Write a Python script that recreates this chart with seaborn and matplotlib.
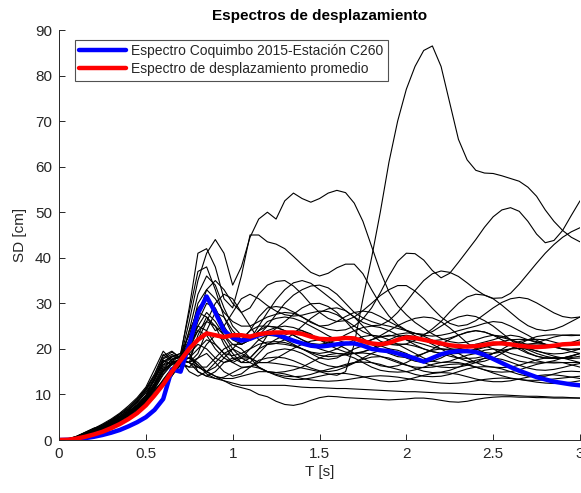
import numpy as np
import pandas as pd
import matplotlib
matplotlib.use("Agg")
import matplotlib.pyplot as plt
import seaborn as sns

# Period grid [s], 0.05 s step from 0 to 3 s
periods = [round(0.05 * i, 2) for i in range(61)]

# Displacement spectra of the record set [cm], one value per period
rec01 = [0, 0.1, 0.5, 1.3, 2.0, 2.9, 3.9, 5.0, 6.2, 7.8, 9.8, 12.5, 16.5, 17.2, 17.5,
         19, 21, 20, 18, 17, 17.5, 18.5, 18, 17, 17,
         16.8, 16.5, 16.2, 15.8, 15.4, 15.0, 14.5, 14.2, 15.0, 21, 31, 40, 50, 61, 70, 77,
         82, 85.5, 86.5, 82, 74, 66, 61.5, 59.2, 58.6, 58.5, 58, 57.4, 56.8, 55.5, 53.5,
         50.5, 48, 46, 44.5, 43.5]
rec02 = [0, 0.1, 0.3, 0.9, 1.5, 2.2, 3.0, 4.0, 5.0, 6.7, 8.3, 10.5, 13.3, 15.8, 18.0,
         26, 35, 41, 44, 41, 34, 38, 44.5, 48.5, 50,
         48.5, 52.5, 54.2, 53, 52.2, 53, 54.2, 54.8, 54.3, 52, 48, 42.5, 37, 32.5, 29.5,
         27.5, 25.8, 24.5, 23.3, 22.3, 21.6, 21.3, 21.5, 22, 22.6, 23, 22.8, 22.1, 21.1,
         20.2, 19.5, 19.1, 18.9, 19, 19.4, 20]
rec03 = [0, 0.2, 0.7, 1.6, 2.5, 3.5, 4.6, 5.9, 7.5, 9.3, 11.6, 15.5, 19.5, 17.5, 18.5,
         29, 41, 42, 38, 31, 29, 36, 45, 45, 43.5,
         43, 42, 40.3, 38.5, 36.8, 36, 36.6, 37.8, 38.6, 38.6, 36.5, 33, 29.8, 27.2, 25.3,
         24.1, 23.4, 23.2, 23.8, 25, 26.2, 27, 27.4, 27.1, 26.2, 25, 23.5, 22, 20.4, 19.2,
         18.4, 18, 17.9, 18, 18.4, 19]
rec04 = [0, 0.1, 0.4, 1.0, 1.7, 2.4, 3.2, 4.5, 5.4, 7.2, 8.8, 11.0, 13.0, 15.0, 17.0,
         22, 30, 33, 31, 28, 26, 25, 25, 26, 27,
         27.6, 28, 27.8, 27, 26, 25, 24.3, 24, 24.2, 25, 26.6, 29, 32.3, 36, 39.2, 41,
         40.9, 39.5, 37.2, 35.6, 36.6, 39, 41.5, 44, 46.7, 49, 50.5, 51, 50.2, 48, 45.2,
         43.3, 43.8, 46, 49.3, 52.5]
rec05 = [0, 0.1, 0.6, 1.3, 2.1, 2.7, 3.7, 4.5, 6.0, 7.5, 9.6, 13.3, 17.0, 18.3, 19.0,
         28, 37, 38, 33, 27, 23, 21, 22, 25, 28,
         30.8, 33, 34.5, 35, 34.4, 33, 31.5, 30, 28.4, 27, 25.8, 25.1, 25.2, 26.2, 28,
         30.3, 32.8, 35, 36.5, 37.1, 36.8, 35.9, 34.5, 33, 31.8, 31.1, 31.2, 32.2, 34.2,
         36.5, 38.8, 41, 42.9, 44.5, 45.7, 46.6]
rec06 = [0, 0.1, 0.3, 0.7, 1.3, 1.9, 2.6, 3.6, 4.6, 6.0, 7.5, 9.5, 12.0, 14.2, 16.5,
         20, 27, 33, 35, 33, 30, 28, 29, 32, 34,
         34.8, 35, 33.8, 32, 29.8, 28, 26.7, 26, 26.2, 27, 28.4, 30, 31.7, 33, 33.9, 33.9,
         32.7, 31, 28.9, 27, 25.6, 25, 25.3, 26.2, 27.6, 29, 30.2, 31, 31.3, 31, 30.1, 29,
         27.9, 27.1, 26.8, 27]
rec07 = [0, 0.2, 0.8, 1.7, 2.6, 3.1, 4.2, 5.6, 6.8, 8.6, 11.0, 14.2, 18.5, 19.5, 18.0,
         18, 22, 26, 30, 32, 31, 28, 25, 22, 21,
         21.2, 22, 23.3, 25, 26.7, 28, 28.8, 29, 28.4, 27, 25, 23, 21.7, 21, 20.8, 21.1,
         21.9, 23, 24.4, 26, 28.1, 30, 31.4, 32, 31.8, 31, 29.6, 28, 26.4, 25.1, 24.3, 24,
         24.3, 25, 26, 27]
rec08 = [0, 0.1, 0.4, 1.1, 1.9, 2.6, 3.5, 4.1, 5.8, 6.8, 8.8, 11.8, 15.0, 17.0, 17.5,
         17, 19, 24, 28, 27, 24, 22, 22, 24, 26,
         26.7, 27, 26.7, 26, 25, 24, 22.9, 22, 21.3, 21, 21.3, 22, 22.9, 24, 25.1, 26,
         26.7, 27, 26.8, 26, 24.6, 23, 21.3, 20, 19.2, 19, 19.3, 20, 21, 22, 22.7, 23,
         23.1, 23, 22.9, 23]
rec09 = [0, 0.1, 0.5, 1.2, 1.9, 2.8, 3.6, 4.9, 6.3, 7.6, 9.5, 12.2, 15.8, 16.5, 18.0,
         20, 25, 28, 26, 23, 20, 18, 18, 20, 23,
         24.5, 26, 27.6, 29, 29.9, 30, 29.3, 28, 26.1, 24, 22.3, 21, 19.9, 19, 18.3, 18.1,
         18.4, 19, 19.9, 21, 22.1, 23, 23.7, 24, 23.7, 23, 22, 21, 19.9, 19, 18.4, 18,
         17.9, 18, 18.4, 19]
rec10 = [0, 0.1, 0.3, 0.8, 1.4, 2.1, 2.9, 3.8, 4.8, 6.3, 8.0, 10.0, 12.8, 15.2, 17.0,
         16, 18, 21, 23, 22, 19, 17, 17, 19, 21,
         22.1, 23, 23.8, 24, 23.3, 22, 20.9, 20, 19.3, 19, 19.3, 20, 21, 22, 22.8, 23,
         22.7, 22, 21, 20, 18.9, 18, 17.3, 17, 17.3, 18, 19, 20, 20.7, 21, 21.1, 21,
         20.6, 20, 19.4, 19]
rec11 = [0, 0.2, 0.6, 1.5, 2.3, 3.2, 4.3, 5.6, 7.0, 8.9, 11.2, 14.0, 17.5, 16.5, 17.5,
         15, 14, 15, 17, 19, 20, 19, 18, 17, 17,
         17.9, 19, 20.1, 21, 21.7, 22, 21.7, 21, 20.1, 19, 17.9, 17, 16.3, 16, 16.3, 17,
         18, 19, 19.7, 20, 19.7, 19, 18, 17, 16.3, 16, 15.9, 16, 16.4, 17, 17.6, 18,
         18.1, 18, 17.5, 17]
rec12 = [0, 0.1, 0.4, 0.9, 1.5, 2.2, 3.0, 4.0, 5.1, 6.5, 8.3, 10.3, 12.2, 14.0, 17.5,
         17, 16, 16, 18, 20, 21, 20, 18, 16, 15,
         14.8, 15, 15.4, 16, 17, 18, 18.7, 19, 18.7, 18, 17, 16, 15.3, 15, 14.9, 15,
         15.4, 16, 16.6, 17, 17.1, 17, 16.6, 16, 15.4, 15, 14.9, 15, 15.4, 16, 16.6, 17,
         17.1, 17, 16.5, 16]
rec13 = [0, 0.1, 0.6, 1.2, 2.0, 2.6, 3.4, 4.4, 5.7, 7.3, 9.2, 12.4, 16.0, 17.6, 18.5,
         19, 15, 14, 15, 17, 18, 18, 17, 16, 15,
         14.4, 14, 13.9, 14, 14.4, 15, 15.5, 16, 16.6, 17, 17.1, 17, 16.6, 16, 15.5, 15,
         14.4, 14, 13.9, 14, 14.4, 15, 15.6, 16, 16.1, 16, 15.6, 15, 14.4, 14, 13.9, 14,
         14.5, 15, 15.1, 15]
rec14 = [0, 0.1, 0.3, 0.8, 1.3, 2.0, 2.7, 3.5, 4.7, 5.9, 7.6, 9.6, 12.3, 14.3, 16.5,
         16, 16, 15, 14, 13, 12, 11.5, 11, 10, 9.5,
         8.5, 7.8, 7.6, 8.0, 8.7, 9.3, 9.6, 9.5, 9.3, 9.2, 9.1, 9, 8.9, 8.8, 8.9, 9,
         9.2, 9.2, 9.0, 8.7, 8.4, 8.3, 8.5, 8.9, 9.2, 9.4, 9.5, 9.5, 9.4, 9.4, 9.3, 9.3,
         9.2, 9.2, 9.2, 9.2]
rec15 = [0, 0.2, 0.7, 1.6, 2.4, 3.0, 3.9, 5.2, 6.5, 8.2, 10.4, 13.0, 17.2, 18.5, 17.5,
         17, 15, 14, 13.5, 13, 12.5, 12, 12, 12, 12,
         12, 12, 11.8, 11.6, 11.5, 11.5, 11.4, 11.3, 11.3, 11.2, 11.1, 11, 10.9, 10.8,
         10.7, 10.6, 10.6, 10.5, 10.4, 10.3, 10.3, 10.2, 10.1, 10, 10, 9.9, 9.9, 9.8,
         9.7, 9.6, 9.6, 9.5, 9.4, 9.4, 9.3, 9.2]
rec16 = [0, 0.1, 0.4, 1.0, 1.8, 2.5, 3.3, 4.2, 5.4, 6.9, 8.5, 11.2, 14.3, 16.6, 17.5,
         18, 17, 15, 14, 13.5, 13.5, 14, 14.5, 15, 15,
         14.8, 14.5, 14, 13.5, 13.2, 13, 12.9, 13, 13.2, 13.5, 13.8, 14, 14.1, 14, 13.8,
         13.5, 13.2, 13, 12.7, 12.5, 12.4, 12.5, 12.7, 13, 13.3, 13.5, 13.6, 13.5, 13.3,
         13, 12.7, 12.5, 12.4, 12.5, 12.7, 13]
rec17 = [0, 0.1, 0.5, 1.2, 1.8, 2.7, 3.5, 4.7, 6.0, 7.4, 9.2, 11.5, 15.2, 17.0, 17.5,
         18, 20, 22, 21, 19, 17, 16, 16, 17, 19,
         19.7, 20, 19.7, 19, 18, 17, 16.3, 16, 16.3, 17, 18, 19, 19.7, 20, 19.7, 19,
         18, 17, 16.3, 16, 15.9, 16, 16.4, 17, 18, 19, 19.7, 20, 20.1, 20, 19.6, 19,
         18.4, 18, 17.9, 18]
rec18 = [0, 0.1, 0.3, 0.9, 1.5, 2.1, 3.1, 3.9, 5.0, 6.4, 8.1, 10.3, 13.0, 15.5, 18.0,
         17, 23, 27, 25, 21, 18, 17, 18, 20, 21,
         21.2, 21, 20.6, 20, 19, 18, 17.7, 18, 19, 20, 20.7, 21, 20.7, 20, 19, 18,
         17.3, 17, 17.3, 18, 19, 20, 20.7, 21, 20.7, 20, 19, 18, 17.3, 17, 16.9, 17,
         17.4, 18, 18.5, 19]
rec19 = [0, 0.2, 0.6, 1.5, 2.4, 3.3, 4.4, 5.7, 7.2, 9.0, 11.3, 14.5, 18.8, 17.2, 18.5,
         21, 24, 23, 20, 18, 17, 18, 20, 22, 23,
         22.8, 22, 21, 20, 19.3, 19, 19.3, 20, 21, 22, 22.7, 23, 22.7, 22, 21, 20,
         19, 18, 17.3, 17, 17.3, 18, 18.6, 19, 19.7, 20, 19.7, 19, 18.5, 18, 17.4, 17,
         16.9, 17, 17, 17]
rec20 = [0, 0.1, 0.4, 1.0, 1.6, 2.3, 3.1, 4.3, 5.3, 7.0, 8.6, 10.8, 12.6, 14.6, 17.0,
         24, 32, 36, 34, 29, 25, 23, 22, 23, 25,
         27.6, 30, 31.8, 33, 33.8, 34, 33.4, 32, 30, 28, 26.8, 26, 25.4, 25, 24.5, 24,
         23.4, 23, 22.8, 23, 23.4, 24, 24.5, 25, 25.6, 26, 25.8, 25, 24, 23, 21.9, 21,
         20.4, 20, 19.9, 20]
rec21 = [0, 0.1, 0.6, 1.4, 2.1, 2.8, 3.8, 4.6, 6.1, 7.7, 9.8, 13.6, 16.5, 18.2, 19.0,
         23, 29, 31, 28, 24, 22, 22, 24, 27, 29,
         29.3, 29, 28.1, 27, 25.8, 25, 25.2, 26, 27.1, 28, 28.3, 28, 27.1, 26, 25, 24,
         22.9, 22, 21.8, 22, 22.4, 23, 23.6, 24, 23.7, 23, 22.5, 22, 21.4, 21, 21.3, 22,
         22.6, 23, 23.1, 23]
rec22 = [0, 0.1, 0.3, 0.7, 1.2, 1.8, 2.6, 3.5, 4.5, 5.9, 7.4, 9.4, 11.9, 14.1, 16.5,
         20, 24, 26, 25, 23, 21, 21, 22, 23, 24,
         24.7, 25, 24.7, 24, 23, 22, 21.3, 21, 20.9, 21, 21.4, 22, 22.6, 23, 22.7, 22,
         21.5, 21, 20.4, 20, 19.9, 20, 20.4, 21, 21.5, 22, 22.6, 23, 22.7, 22, 21.4, 21,
         20.9, 21, 21.4, 22]
rec23 = [0, 0.2, 0.8, 1.6, 2.5, 3.2, 4.1, 5.3, 6.6, 8.3, 10.8, 13.6, 18.0, 19.3, 18.0,
         19, 16, 15, 16, 18, 20, 22, 24, 25, 25,
         24.7, 24, 23, 22, 20.9, 20, 19.4, 19, 18.9, 19, 19.4, 20, 20.6, 21, 21.1, 21,
         20.6, 20, 19.4, 19, 18.9, 19, 19.4, 20, 20.6, 21, 21.6, 22, 22.1, 22, 21.6, 21,
         20.4, 20, 19.9, 20]
rec24 = [0, 0.1, 0.4, 1.1, 1.9, 2.7, 3.6, 4.3, 6.0, 7.0, 9.0, 12.0, 15.2, 17.1, 17.5,
         20, 26, 30, 29, 25, 22, 21, 22, 24, 25,
         24.8, 24, 23, 22, 21.2, 21, 21.3, 22, 23.1, 24, 24.7, 25, 24.7, 24, 23.1, 22,
         20.9, 20, 19.4, 19, 18.4, 18, 17.9, 18, 18.4, 19, 19.9, 21, 21.6, 22, 22.1, 22,
         21.5, 21, 20.9, 21]
rec25 = [0, 0.1, 0.4, 1.0, 1.7, 2.5, 3.4, 4.4, 5.6, 7.1, 8.9, 11.3, 14.6, 16.8, 17.6,
         17, 18, 19, 17, 15, 14, 14.5, 16, 17.5, 18,
         18.2, 18, 17.4, 16.6, 15.8, 15.2, 15, 15.3, 16, 16.9, 17.7, 18.2, 18.3, 18, 17.3,
         16.5, 15.7, 15.1, 14.8, 14.9, 15.3, 16, 16.8, 17.5, 17.9, 18, 17.7, 17.1, 16.4,
         15.8, 15.4, 15.3, 15.5, 15.9, 16.4, 16.8]
rec26 = [0, 0.1, 0.5, 1.2, 2.0, 2.8, 3.7, 4.9, 6.1, 7.7, 9.6, 12.0, 15.4, 17.8, 18.5,
         22, 25, 24, 21, 19, 18.5, 19, 20, 21, 21.5,
         21.6, 21.4, 20.8, 20, 19.2, 18.6, 18.3, 18.4, 18.7, 19, 19.1, 18.9, 18.4, 17.7,
         17, 16.4, 16, 15.9, 16, 16.3, 16.6, 16.7, 16.5, 16, 15.4, 14.7, 14.1, 13.6,
         13.3, 13.1, 13.1, 13.2, 13.4, 13.6, 13.8, 14]
rec27 = [0, 0.2, 0.6, 1.4, 2.2, 3.0, 4.0, 5.2, 6.6, 8.3, 10.4, 13.2, 17.8, 18.8, 17.8,
         24, 28, 27, 24, 25, 28, 31, 32, 31, 29.5,
         28.3, 27.5, 27.2, 27.4, 27.9, 28.3, 28.2, 27.5, 26.3, 25, 23.8, 23, 22.7, 22.8,
         23.2, 23.5, 23.4, 22.8, 21.9, 20.9, 20.1, 19.6, 19.5, 19.8, 20.3, 20.8, 21.1,
         21, 20.5, 19.8, 19, 18.4, 18, 17.9, 18.1, 18.4]
rec28 = [0, 0.1, 0.3, 0.8, 1.4, 2.0, 2.8, 3.7, 4.8, 6.2, 7.8, 10.0, 12.6, 15.0, 17.2,
         18, 16.5, 14.5, 13.5, 13.8, 14.8, 15.8, 16.2, 15.8, 15,
         14.2, 13.6, 13.3, 13.3, 13.6, 14, 14.4, 14.6, 14.6, 14.3, 13.9, 13.4, 13, 12.8,
         12.9, 13.2, 13.7, 14.2, 14.6, 14.8, 14.7, 14.4, 13.9, 13.4, 13, 12.8, 12.8, 13,
         13.4, 13.8, 14.1, 14.3, 14.3, 14.1, 13.8, 13.5]

records = [rec01, rec02, rec03, rec04, rec05, rec06, rec07, rec08, rec09, rec10,
           rec11, rec12, rec13, rec14, rec15, rec16, rec17, rec18, rec19, rec20,
           rec21, rec22, rec23, rec24, rec25, rec26, rec27, rec28]

# Coquimbo 2015, station C260
coquimbo_c260 = [0, 0.05, 0.15, 0.4, 0.7, 1.1, 1.6, 2.2, 3.0, 3.9, 5.0, 6.6, 9.0, 15.5, 15.0,
                 21.0, 27.8, 31.5, 28.0, 24.0, 22.5, 21.8, 22.2, 23.0, 23.5,
                 23.2, 22.5, 21.8, 21.2, 20.7, 20.5, 20.7, 21.0, 21.2, 21.2, 20.7, 20.0,
                 19.7, 19.5, 19.0, 18.5, 17.9, 17.2, 18.0, 18.8, 19.3, 19.5, 19.5, 19.3,
                 18.7, 17.8, 16.9, 16.0, 15.2, 14.5, 13.8, 13.3, 12.8, 12.5, 12.2, 12.0]

# Mean displacement spectrum
mean_spectrum = [0, 0.05, 0.3, 0.7, 1.2, 1.8, 2.6, 3.5, 4.6, 5.9, 7.6, 9.8, 12.2, 15.0, 17.5,
                 20.0, 22.0, 23.4, 23.0, 22.6, 23.0, 23.0, 22.7, 23.2, 23.5,
                 23.6, 23.6, 23.6, 23.3, 22.7, 22.2, 22.1, 22.2, 22.4, 22.3, 21.7, 21.2,
                 21.0, 21.3, 22.0, 22.5, 22.4, 22.0, 21.6, 21.2, 20.8, 20.6, 20.5, 20.6,
                 20.9, 21.2, 21.2, 21.0, 20.7, 20.5, 20.4, 20.5, 20.7, 21.0, 21.1, 21.2]

x_ticks = [0, 0.5, 1, 1.5, 2, 2.5, 3]
x_tick_labels = ["0", "0.5", "1", "1.5", "2", "2.5", "3"]
y_ticks = [0, 10, 20, 30, 40, 50, 60, 70, 80, 90]

label_c260 = "Espectro Coquimbo 2015-Estación C260"
label_mean = "Espectro de desplazamiento promedio"

sns.set_theme(style="white")
plt.rcParams["font.family"] = ["Liberation Sans", "DejaVu Sans"]

records_df = pd.DataFrame({
    "T": np.tile(periods, len(records)),
    "SD": np.concatenate(records),
    "rec": np.repeat(np.arange(len(records)), len(periods)),
})
c260_df = pd.DataFrame({"T": periods, "SD": coquimbo_c260})
mean_df = pd.DataFrame({"T": periods, "SD": mean_spectrum})

fig = plt.figure(figsize=(5.81, 4.93), dpi=100)
ax = fig.add_axes([59 / 581, 53 / 493, 521 / 581, 410 / 493])

sns.lineplot(data=records_df, x="T", y="SD", units="rec", estimator=None,
             color="black", linewidth=0.8, ax=ax, legend=False)
sns.lineplot(data=c260_df, x="T", y="SD", color="#0000ff", linewidth=3.2,
             ax=ax, label=label_c260)
sns.lineplot(data=mean_df, x="T", y="SD", color="#ff0000", linewidth=3.2,
             ax=ax, label=label_mean)

ax.set_xlim(0, 3)
ax.set_ylim(0, 90)
ax.set_xticks(x_ticks)
ax.set_xticklabels(x_tick_labels)
ax.set_yticks(y_ticks)

text_color = "#262626"
ax.tick_params(axis="both", direction="in", length=4, width=0.7,
               colors=text_color, labelsize=11, pad=5,
               bottom=True, left=True, top=False, right=False)
for side in ("top", "right"):
    ax.spines[side].set_visible(False)
for side in ("left", "bottom"):
    ax.spines[side].set_color(text_color)
    ax.spines[side].set_linewidth(0.7)

ax.set_xlabel("T [s]", fontsize=11, color=text_color, labelpad=3)
ax.set_ylabel("SD [cm]", fontsize=11, color=text_color, labelpad=6)
ax.set_title("Espectros de desplazamiento", fontsize=11, fontweight="bold",
             color="black", pad=7)

leg = ax.legend(loc="upper left", bbox_to_anchor=(16 / 521, 400 / 410),
                borderaxespad=0, fontsize=10, frameon=True, fancybox=False,
                handlelength=3.4, handletextpad=0.35, borderpad=0.3,
                labelspacing=0.3)
leg.get_frame().set_edgecolor(text_color)
leg.get_frame().set_linewidth(0.8)
for txt in leg.get_texts():
    txt.set_color(text_color)

fig.savefig("out.png", dpi=100)
